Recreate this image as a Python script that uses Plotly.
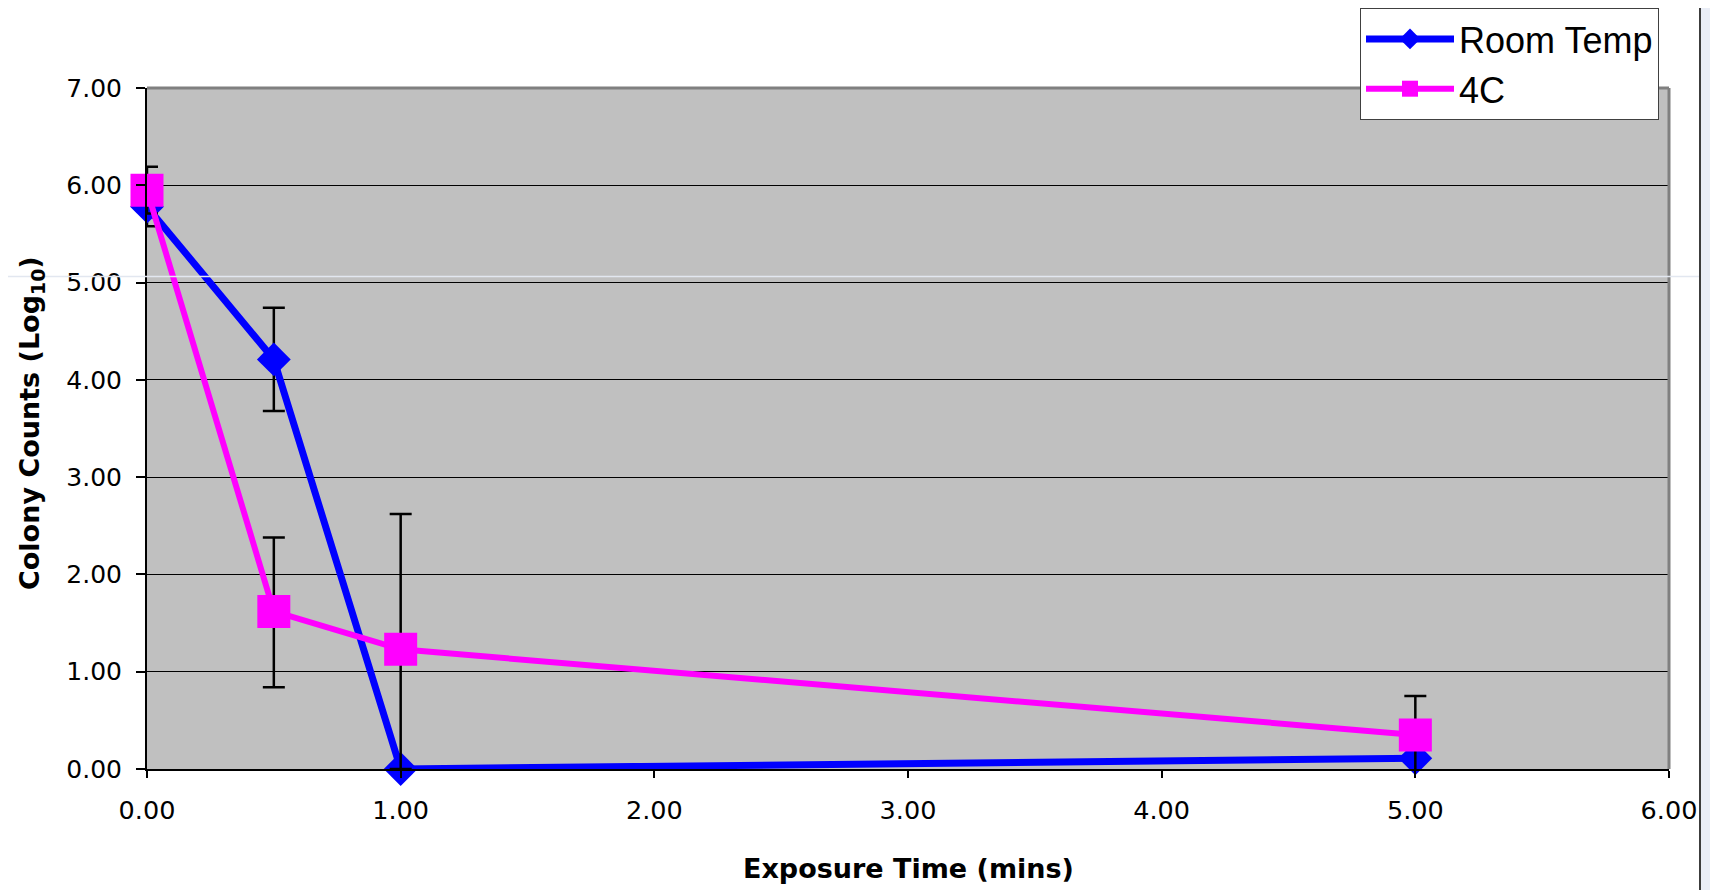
import plotly.graph_objects as go

# ---- data ----
exposure_time = [0.0, 0.5, 1.0, 5.0]
room_temp = [5.78, 4.21, 0.00, 0.11]
room_temp_err = [0.20, 0.53, 0.00, 0.27]
cold_4c = [5.95, 1.62, 1.23, 0.35]
cold_4c_err_plus = [0.24, 0.76, 1.39, 0.40]
cold_4c_err_minus = [0.24, 0.78, 1.23, 0.40]
x_ticks = [0, 1, 2, 3, 4, 5, 6]
y_ticks = [0, 1, 2, 3, 4, 5, 6, 7]

# page body has an 8px margin; figure is sized so it ends at the window edge
OFF = 8
W, H = 1718 - OFF, 890 - OFF
PLOT_L, PLOT_R, PLOT_T, PLOT_B = 147, 1669, 88, 769  # in window pixels
L, R, T, B = PLOT_L - OFF, 1718 - PLOT_R, PLOT_T - OFF, 890 - PLOT_B
PW, PH = PLOT_R - PLOT_L, PLOT_B - PLOT_T


def px(xw):
    return (xw - PLOT_L) / PW


def py(yw):
    return (PLOT_B - yw) / PH


FONT = "Liberation Sans, Arial, sans-serif"
AXFONT = "DejaVu Sans, Verdana, sans-serif"

fig = go.Figure()
fig.add_trace(go.Scatter(
    x=exposure_time, y=room_temp, name="Room Temp", mode="lines+markers",
    line=dict(color="#0000ff", width=7),
    marker=dict(symbol="diamond", size=26, color="#0000ff"),
    error_y=dict(type="data", array=room_temp_err, color="black", thickness=2.5, width=11),
    cliponaxis=False,
))
fig.add_trace(go.Scatter(
    x=exposure_time, y=cold_4c, name="4C", mode="lines+markers",
    line=dict(color="#ff00ff", width=6),
    marker=dict(symbol="square", size=33, color="#ff00ff"),
    error_y=dict(type="data", array=cold_4c_err_plus, arrayminus=cold_4c_err_minus,
                 symmetric=False, color="black", thickness=2.5, width=11),
    cliponaxis=False,
))

fig.update_layout(
    width=W, height=H,
    margin=dict(l=L, r=R, t=T, b=B, autoexpand=False),
    paper_bgcolor="white", plot_bgcolor="#c0c0c0",
    font=dict(family=FONT, color="black"),
    showlegend=True,
    legend=dict(
        x=px(1659), y=py(8), xanchor="right", yanchor="top",
        bgcolor="white", bordercolor="#404040", borderwidth=1,
        font=dict(size=36, family=FONT, color="black"),
        itemwidth=88, tracegroupgap=0,
    ),
    xaxis=dict(
        range=[0, 6], tickvals=x_ticks, tickformat=".2f",
        showgrid=False, zeroline=False,
        showline=True, linecolor="black", linewidth=2,
        ticks="outside", ticklen=7, tickwidth=1.5, tickcolor="black",
        tickfont=dict(size=25.5, family=AXFONT), ticklabelstandoff=10,
    ),
    yaxis=dict(
        range=[0, 7], tickvals=y_ticks, tickformat=".2f",
        showgrid=True, gridcolor="black", gridwidth=1,
        zeroline=False,
        showline=True, linecolor="black", linewidth=2,
        ticks="outside", ticklen=9, tickwidth=1.5, tickcolor="black",
        tickfont=dict(size=25, family=AXFONT), ticklabelstandoff=9,
    ),
    shapes=[
        # gray plot-area frame (top and right)
        dict(type="line", xref="paper", yref="paper", x0=0, x1=1, y0=1, y1=1,
             line=dict(color="#808080", width=3), layer="above"),
        dict(type="line", xref="paper", yref="paper", x0=1, x1=1, y0=0, y1=1,
             line=dict(color="#808080", width=3), layer="above"),
        # screenshot artifacts at right edge
        dict(type="rect", xref="paper", yref="paper", x0=px(1701), x1=px(1722),
             y0=py(895), y1=py(-5), fillcolor="#e9edf6", line=dict(width=0), layer="above"),
        dict(type="line", xref="paper", yref="paper", x0=px(1700), x1=px(1700),
             y0=py(895), y1=py(-5), line=dict(color="#3c3c3c", width=2), layer="above"),
        dict(type="line", xref="paper", yref="paper", x0=px(0), x1=px(1699),
             y0=py(276.5), y1=py(276.5), line=dict(color="#e2e7f0", width=1.5), layer="above"),
    ],
    annotations=[
        dict(text="<b>Exposure Time (mins)</b>", xref="paper", yref="paper",
             x=px(908), y=py(868), showarrow=False, xanchor="center", yanchor="middle",
             font=dict(size=27, family=AXFONT)),
        dict(text="<b>Colony Counts (Log<sub>10</sub>)</b>", xref="paper", yref="paper",
             x=px(31), y=py(423), showarrow=False, xanchor="center", yanchor="middle",
             textangle=-90, font=dict(size=27, family=AXFONT)),
    ],
)

fig.write_html("out.html")
